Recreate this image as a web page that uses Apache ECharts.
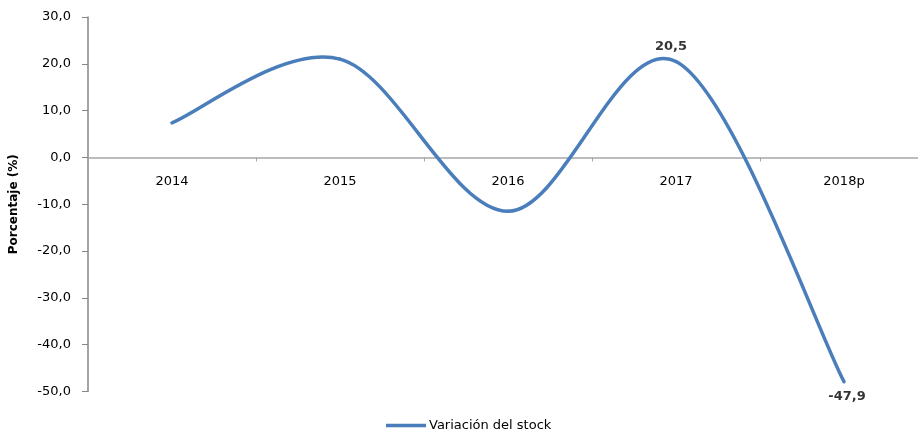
<!DOCTYPE html>
<html>
<head>
<meta charset="utf-8">
<script src="https://cdn.jsdelivr.net/npm/echarts@6/dist/echarts.min.js"></script>
<style>
html, body { margin: 0; padding: 0; background: #fff; }
#main { width: 918px; height: 434px; }
</style>
</head>
<body>
<div id="main"></div>
<script>
var chart = echarts.init(document.getElementById("main"));

// categorias y valores (%)
var years = ["2014", "2015", "2016", "2017", "2018p"];
var stock = [7.4, 21.0, -11.5, 20.5, -47.9];
// solo se etiquetan estos puntos
var labelled = [false, false, false, true, true];
var labelPos = ["top", "top", "bottom", "top", "bottom"];
var labelShift = [[0, 0], [0, 0], [0, 0], [-5, 0], [3, 0]];

var font = "DejaVu Sans";
var lineColor = "#4a7ebb";
var yMin = -50, yMax = 30;

function fmt(v) {
    return v.toFixed(1).replace(".", ",");
}

var pts = [];
for (var i = 0; i < years.length; i++) {
    pts.push([i, stock[i]]);
}

// curva suavizada tipo Excel (Catmull-Rom -> bezier), tramo i -> i+1
function renderCurve(params, api) {
    var i = params.dataIndex;
    var n = stock.length;
    if (i >= n - 1) return null;
    var p0 = api.coord([Math.max(i - 1, 0), stock[Math.max(i - 1, 0)]]);
    var p1 = api.coord([i, stock[i]]);
    var p2 = api.coord([i + 1, stock[i + 1]]);
    var p3 = api.coord([Math.min(i + 2, n - 1), stock[Math.min(i + 2, n - 1)]]);
    return {
        type: "bezierCurve",
        shape: {
            x1: p1[0], y1: p1[1],
            x2: p2[0], y2: p2[1],
            cpx1: p1[0] + (p2[0] - p0[0]) / 6,
            cpy1: p1[1] + (p2[1] - p0[1]) / 6,
            cpx2: p2[0] - (p3[0] - p1[0]) / 6,
            cpy2: p2[1] - (p3[1] - p1[1]) / 6
        },
        style: { stroke: lineColor, lineWidth: 3.5, fill: null, lineCap: "round" }
    };
}

var labelData = [];
for (var j = 0; j < years.length; j++) {
    labelData.push({
        value: [j, stock[j]],
        label: {
            show: labelled[j],
            position: labelPos[j],
            distance: 8,
            offset: labelShift[j]
        }
    });
}

var option = {
    animation: false,
    textStyle: { fontFamily: font },
    grid: {
        left: 88,
        width: 840,
        top: 17,
        bottom: 42.5,
        outerBoundsMode: "none",
        containLabel: false
    },
    legend: {
        left: 386,
        top: 419,
        padding: 0,
        icon: "rect",
        itemWidth: 40,
        itemHeight: 3.5,
        textStyle: { fontFamily: font, fontSize: 13, color: "#000", padding: [0, 0, 0, -2] },
        data: [{ name: "Variación del stock", itemStyle: { color: lineColor } }]
    },
    xAxis: {
        type: "category",
        data: years,
        axisLine: { onZero: false, lineStyle: { color: "#a6a6a6", width: 1.5 } },
        axisTick: { show: true, length: 4, lineStyle: { color: "#a6a6a6" } },
        axisLabel: { margin: 18, fontSize: 13, color: "#000", fontFamily: font },
        splitLine: { show: false }
    },
    yAxis: {
        type: "value",
        min: yMin,
        max: yMax,
        interval: 10,
        name: "Porcentaje (%)",
        nameLocation: "middle",
        nameGap: 68,
        nameTextStyle: { fontFamily: font, fontSize: 12, fontWeight: "bold", color: "#000" },
        axisLine: { show: true, lineStyle: { color: "#868686", width: 1.5 } },
        axisTick: { show: true, length: 6, lineStyle: { color: "#868686" } },
        axisLabel: { margin: 17, fontSize: 13, color: "#000", fontFamily: font, formatter: fmt },
        splitLine: { show: false }
    },
    series: [{
        name: "Variación del stock",
        type: "custom",
        coordinateSystem: "cartesian2d",
        renderItem: renderCurve,
        itemStyle: { color: lineColor },
        data: pts,
        clip: false,
        z: 3
    }, {
        name: "etiquetas",
        type: "scatter",
        symbolSize: 0,
        silent: true,
        data: labelData,
        label: {
            fontFamily: font,
            fontSize: 13,
            fontWeight: "bold",
            color: "#000",
            textBorderWidth: 0,
            formatter: function (p) { return fmt(p.value[1]); }
        },
        z: 4
    }]
};

chart.setOption(option);

// eje de categorias cruzando en 0
var zeroY = chart.convertToPixel({ yAxisIndex: 0 }, 0);
var bottomY = chart.convertToPixel({ yAxisIndex: 0 }, yMin);
chart.setOption({ xAxis: { offset: -(bottomY - zeroY) } });
</script>
</body>
</html>
